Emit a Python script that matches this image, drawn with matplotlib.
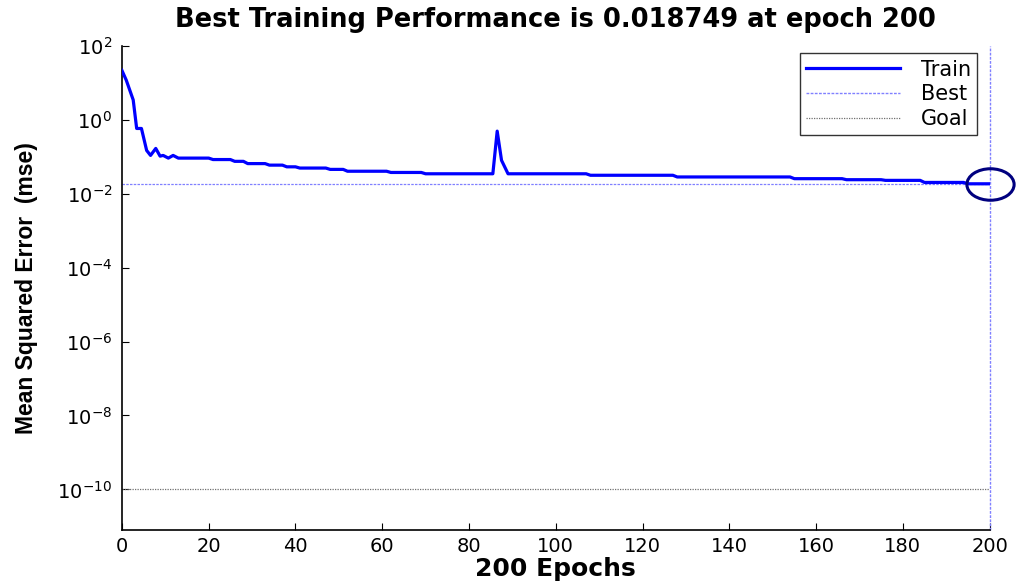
import numpy as np
import matplotlib
matplotlib.use('Agg')
import matplotlib.pyplot as plt
from matplotlib.path import Path
from matplotlib.transforms import Affine2D

# training curve (epoch, mse)
epochs = [0, 1, 2.6, 3.4, 4.5, 5.7, 6.6, 7.8, 8.8, 9.5, 10.7, 11.8, 13,
          20, 21, 25, 26, 28, 29, 33, 34, 37, 38, 40, 41, 47, 48, 51, 52,
          61, 62, 69, 70, 85.5, 86.5, 87.5, 89, 107, 108, 127, 128,
          154, 155, 166, 167, 175, 176, 184, 185, 194, 195, 200]
train_mse = [22, 12, 3.5, 0.59, 0.59, 0.15, 0.11, 0.17, 0.105, 0.11, 0.093, 0.11, 0.093,
             0.093, 0.085, 0.085, 0.076, 0.076, 0.066, 0.066, 0.060, 0.060, 0.054, 0.054, 0.050,
             0.050, 0.046, 0.046, 0.041, 0.041, 0.038, 0.038, 0.035, 0.035, 0.50, 0.081, 0.035,
             0.035, 0.0319, 0.0319, 0.0287, 0.0287, 0.0258, 0.0258, 0.0242, 0.0242, 0.0232,
             0.0232, 0.0204, 0.0204, 0.018749, 0.018749]
best_epoch = 200
best_perf = 0.018749
goal = 1e-10
xticks = [0, 20, 40, 60, 80, 100, 120, 140, 160, 180, 200]
yticks = [1e2, 1e0, 1e-2, 1e-4, 1e-6, 1e-8, 1e-10]

plt.rcParams['font.family'] = ['DejaVu Sans']
plt.rcParams['mathtext.fontset'] = 'dejavusans'

fig = plt.figure(figsize=(10.16, 5.84), dpi=100)
ax = fig.add_axes([0.120, 0.0925, 0.854, 0.8285])

ax.plot(epochs, train_mse, color='#0000ff', lw=2.3, label='Train', zorder=3)
ax.axvline(best_epoch, color='#8080ff', lw=1.0, ls=(0, (2, 1)), label='Best', clip_on=False)
ax.axhline(best_perf, color='#8080ff', lw=0.9, ls=(0, (2, 1)))
ax.axhline(goal, color='#707070', lw=0.9, ls=(0, (1, 1)), label='Goal')

# wide ellipse marker on the best point
circ = Path.unit_circle().transformed(Affine2D().scale(1.5, 1.0))
ax.plot([best_epoch], [best_perf], marker=circ, ms=34, mfc='none', mec='#00007f',
        mew=2.2, ls='none', zorder=4, clip_on=False)

ax.set_yscale('log')
ax.set_xlim(0, 200)
ax.set_ylim(10 ** -11.1, 1e2)
ax.set_xticks(xticks)
ax.set_xticklabels([str(t) for t in xticks])
ax.set_yticks(yticks)
ax.yaxis.set_minor_locator(matplotlib.ticker.NullLocator())
ax.tick_params(direction='in', length=5, width=0.8, labelsize=14)
ax.tick_params(axis='y', pad=7)
ax.tick_params(axis='x', pad=5)
ax.spines['top'].set_visible(False)
ax.spines['right'].set_visible(False)
ax.spines['left'].set_linewidth(1.2)
ax.spines['bottom'].set_linewidth(1.2)

ax.set_title('Best Training Performance is 0.018749 at epoch 200',
             fontsize=18.5, fontweight='bold', pad=14)
ax.set_xlabel('200 Epochs', fontsize=18, fontweight='bold', labelpad=1)
ax.set_ylabel('Mean Squared Error  (mse)', fontsize=16.5, fontweight='bold',
              family=['Liberation Sans Narrow', 'Liberation Sans'], labelpad=14)

leg = ax.legend(loc='upper right', bbox_to_anchor=(0.986, 0.985), borderaxespad=0,
                fontsize=15, frameon=True, fancybox=False, edgecolor='black',
                handlelength=4.5, borderpad=0.3, labelspacing=0.22, handletextpad=1.0)
leg.get_frame().set_linewidth(1.0)

fig.savefig('out.png', dpi=100)
